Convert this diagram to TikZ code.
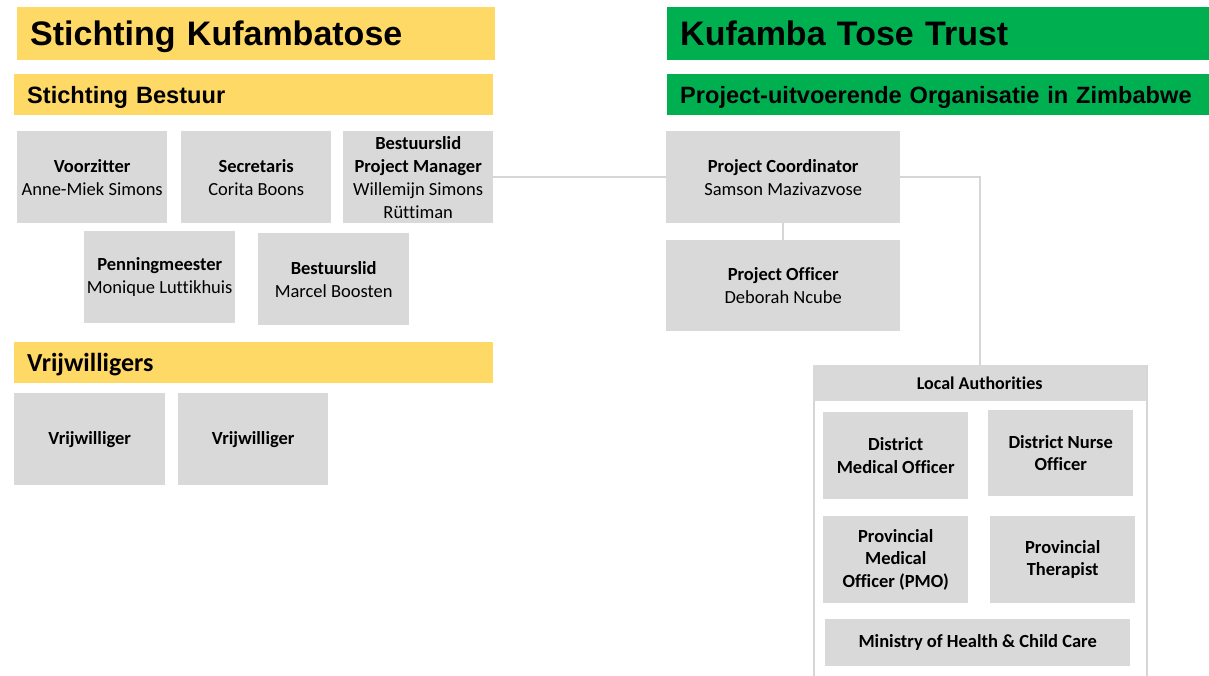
\documentclass[tikz,border=0pt]{standalone}
\usepackage{fontspec}
\setmainfont{Carlito}[Ligatures={NoCommon}]
\newfontfamily\arialfont{Liberation Sans}
\definecolor{yel}{HTML}{FFD966}
\definecolor{grn}{HTML}{00B050}
\definecolor{boxgray}{HTML}{D9D9D9}
\definecolor{linegray}{HTML}{D6D6D6}
\newcommand\boxfont{\fontsize{18.5}{23}\selectfont}
\newcommand\bigtitle{\arialfont\bfseries\fontsize{34}{40}\selectfont}
\newcommand\subtitle{\arialfont\bfseries\fontsize{23.6}{28}\selectfont}
\tikzset{
  conn/.style={draw=linegray, line width=2pt},
  gbox/.style={fill=boxgray, inner sep=0pt, anchor=north west, align=center, font=\boxfont},
  band/.style={inner ysep=0pt, inner xsep=13pt, anchor=north west, align=left, text depth=0pt},
}
\begin{document}
\begin{tikzpicture}[x=1pt,y=-1pt]
\useasboundingbox[fill=white] (0,0) rectangle (1209,676);
% header bands
\node[band, fill=yel, font=\bigtitle, text height=24.3pt, minimum height=53pt, text width=452pt] (t1) at (17,7) {Stichting Kufambatose};
\node[band, fill=grn, font=\bigtitle, text height=24.3pt, minimum height=53pt, text width=516pt] (t2) at (667,7) {Kufamba Tose Trust};
\node[band, fill=yel, font=\subtitle, text height=16.9pt, minimum height=41pt, text width=453pt] (b1) at (14,74) {Stichting Bestuur};
\node[band, fill=grn, font=\subtitle, text height=16.9pt, minimum height=41pt, text width=516pt] (b2) at (667,74) {Project-uitvoerende Organisatie in Zimbabwe};
\node[band, fill=yel, font=\bfseries\fontsize{26}{30}\selectfont, text height=16.7pt, minimum height=41pt, text width=453pt] (b3) at (14,342) {Vrijwilligers};
% board boxes
\node[gbox, minimum width=150pt, minimum height=92pt] (v) at (17,131) {\textbf{Voorzitter}\\Anne-Miek Simons};
\node[gbox, minimum width=150pt, minimum height=92pt] (s) at (181,131) {\textbf{Secretaris}\\Corita Boons};
\node[gbox, minimum width=150pt, minimum height=92pt] (bpm) at (343,131) {\textbf{Bestuurslid}\\\textbf{Project Manager}\\Willemijn Simons\\Rüttiman};
\node[gbox, minimum width=151pt, minimum height=92pt] (p) at (84,231) {\textbf{Penningmeester}\\Monique Luttikhuis};
\node[gbox, minimum width=151pt, minimum height=92pt] (bm) at (258,233) {\textbf{Bestuurslid}\\Marcel Boosten};
% volunteers
\node[gbox, minimum width=151pt, minimum height=92pt] (vr1) at (14,393) {\textbf{Vrijwilliger}};
\node[gbox, minimum width=150pt, minimum height=92pt] (vr2) at (178,393) {\textbf{Vrijwilliger}};
% Zimbabwe side
\node[gbox, minimum width=234pt, minimum height=92pt] (pc) at (666,131) {\textbf{Project Coordinator}\\Samson Mazivazvose};
\node[gbox, minimum width=234pt, minimum height=91pt] (po) at (666,240) {\textbf{Project Officer}\\Deborah Ncube};
% local authorities container
\node[draw=linegray, line width=2pt, inner sep=0pt, anchor=north west, minimum width=333pt, minimum height=340pt] (lacont) at (813,365) {};
\node[gbox, minimum width=333pt, minimum height=36pt, font=\bfseries\fontsize{18}{21}\selectfont] (lahead) at (813,365) {Local Authorities};
\node[gbox, minimum width=145pt, minimum height=87pt, font=\bfseries\fontsize{18.5}{22.5}\selectfont] (dmo) at (823,412) {District\\Medical Officer};
\node[gbox, minimum width=145pt, minimum height=86pt, font=\bfseries\fontsize{18.5}{22.5}\selectfont] (dno) at (988,410) {District Nurse\\Officer};
\node[gbox, minimum width=145pt, minimum height=87pt, font=\bfseries\fontsize{18.5}{22.5}\selectfont] (pmo) at (823,516) {Provincial\\Medical\\Officer (PMO)};
\node[gbox, minimum width=145pt, minimum height=87pt, font=\bfseries\fontsize{18.5}{22.5}\selectfont] (pt) at (990,516) {Provincial\\Therapist};
\node[gbox, minimum width=305pt, minimum height=47pt, font=\bfseries\fontsize{18.5}{22.5}\selectfont] (moh) at (825,619) {Ministry of Health \& Child Care};
% connectors
\draw[conn] (bpm.east) -- (pc.west);
\draw[conn] (pc.south) -- (po.north);
\draw[conn] (pc.east) -| (lahead.north);
\end{tikzpicture}
\end{document}
